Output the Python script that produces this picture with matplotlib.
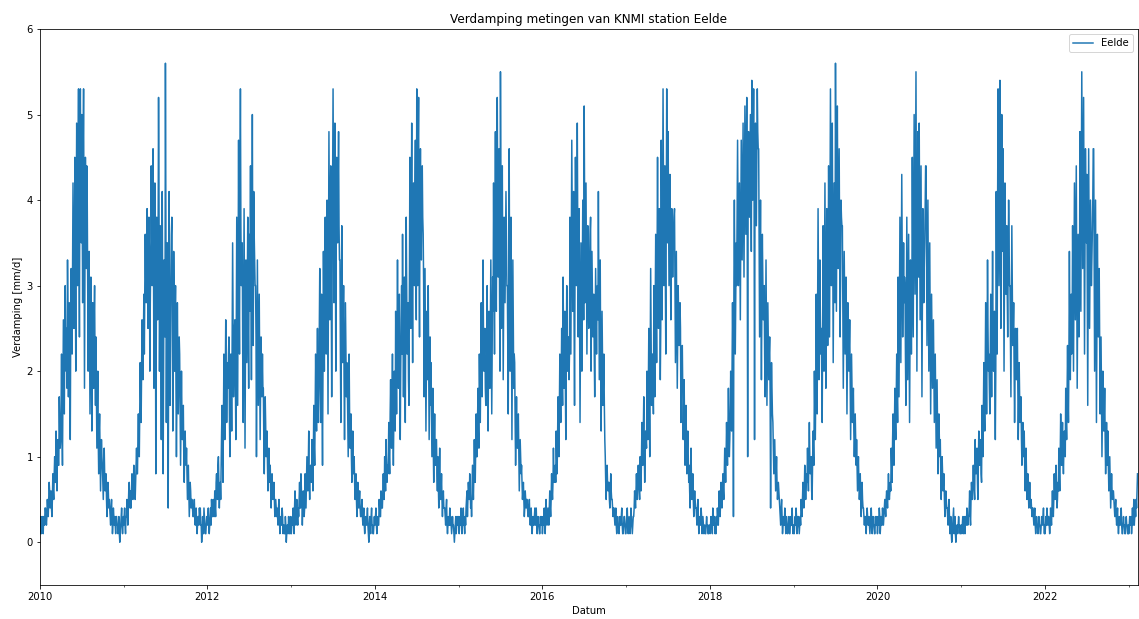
import matplotlib
matplotlib.use("Agg")
import matplotlib.pyplot as plt
import matplotlib.dates as mdates
import pandas as pd

# Verdamping in tienden mm/d, om de 2 dagen
# (per regel één maand: jan t/m dec)
eelde_2010 = [1, 2, 3, 1, 2, 3, 2, 1, 3, 2, 2, 4, 4, 3, 2, 3,
              5, 4, 3, 5, 7, 6, 4, 5, 6, 4, 3, 5, 8, 6,
              5, 8, 10, 7, 7, 13, 9, 6, 10, 12, 9, 9, 17, 13, 11,
              12, 16, 22, 13, 9, 18, 26, 20, 15, 24, 30, 22, 20, 25, 18,
              33, 26, 17, 22, 28, 19, 12, 25, 32, 27, 22, 31, 42, 33, 25, 30,
              45, 32, 20, 38, 49, 41, 30, 44, 53, 35, 24, 47, 53, 42, 35,
              50, 40, 28, 45, 53, 36, 18, 33, 45, 38, 32, 44, 40, 31, 20,
              28, 34, 25, 15, 23, 31, 24, 13, 20, 28, 22, 18, 26, 30, 21, 16,
              24, 17, 11, 16, 20, 12, 8, 13, 15, 10, 6, 9, 12, 10, 9,
              7, 5, 8, 11, 8, 6, 7, 8, 5, 3, 5, 7, 6, 4, 5,
              4, 3, 2, 4, 5, 3, 1, 2, 4, 3, 2, 3, 2, 1, 3,
              3, 2, 2, 1, 2, 3, 1, 0, 1, 2, 3, 4, 2, 1, 2, 3]
eelde_2011 = [2, 3, 4, 2, 1, 3, 3, 5, 4, 2, 4, 6, 7, 5, 4, 6,
              4, 6, 8, 7, 5, 6, 9, 8, 6, 5, 7, 9, 11, 8,
              8, 12, 15, 11, 10, 16, 21, 17, 14, 20, 26, 22, 19, 24, 29,
              22, 30, 36, 31, 28, 33, 39, 35, 25, 30, 38, 34, 20, 28, 33,
              44, 36, 30, 38, 46, 32, 18, 27, 42, 35, 8, 24, 38, 30, 26, 35,
              52, 40, 20, 29, 37, 24, 12, 30, 41, 28, 8, 22, 33, 29, 24,
              56, 38, 14, 27, 35, 22, 4, 25, 41, 30, 16, 23, 30, 36, 38,
              30, 13, 22, 34, 28, 20, 26, 30, 18, 10, 17, 28, 22, 15, 20, 24,
              22, 16, 9, 14, 20, 15, 12, 14, 16, 10, 7, 11, 13, 10, 9,
              11, 8, 5, 7, 9, 6, 3, 5, 7, 6, 4, 5, 5, 4, 3,
              3, 4, 5, 3, 2, 3, 4, 2, 1, 2, 3, 3, 2, 4, 3,
              4, 2, 2, 0, 1, 3, 2, 1, 4, 3, 2, 1, 1, 2, 3, 2]
eelde_2012 = [2, 3, 4, 2, 1, 2, 3, 4, 2, 5, 4, 3, 3, 5, 4, 3,
              6, 4, 3, 7, 8, 6, 5, 9, 10, 7, 4, 6, 7, 5,
              9, 13, 16, 10, 7, 14, 22, 15, 12, 19, 26, 18, 14, 17, 21,
              18, 22, 24, 15, 10, 16, 22, 19, 13, 24, 35, 25, 17, 21, 25,
              26, 19, 12, 24, 38, 27, 16, 33, 47, 30, 22, 41, 53, 37, 30, 35,
              35, 22, 14, 28, 39, 24, 11, 23, 33, 27, 21, 30, 38, 25, 18,
              36, 27, 33, 44, 29, 19, 32, 50, 31, 23, 41, 36, 33, 30, 30,
              24, 10, 21, 33, 25, 16, 22, 29, 20, 12, 18, 24, 20, 17, 22, 18,
              18, 12, 8, 13, 17, 14, 10, 12, 13, 9, 6, 8, 11, 9, 7,
              9, 6, 4, 7, 8, 6, 5, 6, 7, 5, 3, 4, 5, 4, 3,
              4, 3, 2, 4, 5, 3, 1, 2, 3, 2, 2, 4, 3, 1, 2,
              2, 1, 1, 3, 2, 0, 1, 2, 2, 1, 3, 2, 1, 2, 3, 1]
eelde_2013 = [1, 2, 3, 2, 4, 3, 1, 4, 6, 3, 2, 4, 5, 3, 2, 4,
              3, 5, 7, 4, 4, 8, 6, 5, 2, 4, 6, 5, 3, 4,
              8, 6, 4, 7, 10, 8, 6, 9, 13, 7, 5, 8, 9, 8, 7,
              12, 9, 6, 10, 16, 11, 9, 15, 22, 16, 13, 19, 25, 17, 14,
              18, 25, 32, 20, 14, 22, 29, 16, 9, 20, 34, 26, 20, 30, 38, 27,
              22, 33, 40, 26, 15, 30, 48, 36, 26, 38, 44, 30, 17, 31, 41,
              53, 40, 28, 37, 49, 33, 20, 36, 45, 38, 35, 42, 48, 37, 33,
              33, 22, 14, 28, 37, 27, 21, 26, 30, 19, 12, 20, 28, 22, 17, 21,
              19, 14, 10, 16, 22, 15, 11, 13, 15, 10, 7, 10, 13, 9, 8,
              10, 7, 5, 6, 8, 5, 3, 5, 7, 5, 4, 5, 6, 4, 3,
              3, 4, 5, 3, 2, 3, 4, 2, 1, 2, 3, 2, 2, 3, 4,
              2, 1, 0, 2, 3, 2, 1, 3, 4, 2, 2, 1, 1, 2, 3, 2]
eelde_2014 = [2, 3, 4, 2, 1, 2, 3, 2, 2, 5, 4, 3, 3, 6, 5, 4,
              4, 6, 8, 6, 5, 10, 8, 6, 12, 9, 7, 9, 8, 10,
              14, 10, 8, 15, 19, 13, 11, 17, 22, 14, 9, 15, 20, 16, 13,
              27, 20, 15, 25, 33, 24, 18, 26, 29, 17, 12, 20, 26, 30, 22,
              36, 25, 17, 24, 31, 20, 14, 28, 38, 29, 22, 25, 28, 19, 16, 30,
              45, 33, 25, 38, 49, 30, 21, 35, 42, 36, 30, 41, 47, 33, 26,
              53, 41, 30, 46, 52, 34, 24, 39, 46, 38, 33, 40, 44, 38, 36,
              30, 17, 25, 32, 22, 13, 20, 27, 19, 24, 30, 21, 12, 18, 24, 16,
              21, 15, 10, 14, 18, 11, 7, 12, 15, 11, 9, 12, 12, 8, 6,
              10, 7, 4, 8, 11, 7, 5, 6, 8, 5, 3, 5, 6, 4, 4,
              4, 3, 2, 4, 5, 2, 1, 2, 3, 2, 2, 4, 2, 3, 2,
              1, 2, 3, 2, 2, 1, 0, 1, 2, 3, 1, 2, 3, 2, 2, 3]
eelde_2015 = [2, 1, 2, 3, 2, 4, 3, 1, 2, 3, 4, 2, 2, 1, 3, 2,
              4, 5, 6, 3, 5, 7, 6, 5, 8, 6, 4, 5, 3, 6,
              9, 7, 5, 8, 12, 9, 7, 11, 15, 10, 10, 14, 18, 13, 11,
              22, 17, 14, 20, 28, 21, 17, 25, 33, 24, 20, 23, 25, 18, 16,
              16, 24, 30, 19, 13, 21, 27, 22, 18, 26, 33, 24, 15, 23, 31, 27,
              42, 30, 22, 35, 48, 33, 27, 39, 52, 40, 31, 38, 46, 29, 20,
              55, 38, 25, 36, 44, 30, 19, 28, 38, 33, 28, 35, 41, 36, 30,
              30, 22, 15, 32, 46, 29, 20, 28, 38, 25, 12, 22, 33, 25, 18, 22,
              21, 14, 9, 13, 17, 13, 11, 14, 15, 10, 6, 9, 12, 10, 8,
              9, 7, 5, 6, 7, 5, 3, 4, 6, 5, 4, 5, 5, 4, 3,
              3, 4, 5, 3, 2, 3, 4, 2, 1, 2, 3, 2, 2, 3, 4,
              2, 3, 4, 2, 1, 2, 3, 2, 2, 1, 1, 3, 2, 2, 3, 2]
eelde_2016 = [1, 2, 3, 2, 4, 2, 1, 3, 5, 3, 2, 3, 4, 3, 2, 4,
              6, 4, 3, 5, 8, 6, 5, 7, 11, 8, 7, 8, 9, 7,
              13, 10, 8, 12, 17, 12, 10, 16, 22, 17, 14, 20, 25, 19, 16,
              31, 24, 18, 22, 27, 18, 12, 21, 30, 25, 20, 23, 24, 19, 22,
              38, 29, 22, 35, 47, 36, 27, 33, 41, 26, 16, 31, 45, 37, 30, 34,
              49, 36, 24, 31, 39, 25, 14, 25, 35, 28, 20, 32, 40, 33, 26,
              51, 39, 28, 35, 42, 31, 22, 30, 37, 30, 25, 29, 33, 36, 38,
              20, 27, 34, 29, 24, 27, 29, 22, 17, 25, 32, 27, 22, 28, 30, 26,
              41, 30, 19, 26, 33, 21, 13, 20, 27, 21, 16, 19, 22, 16, 12,
              10, 7, 5, 8, 9, 7, 6, 7, 7, 5, 4, 6, 8, 6, 5,
              5, 4, 3, 4, 4, 3, 2, 3, 4, 2, 1, 2, 3, 2, 2,
              1, 2, 3, 2, 2, 3, 4, 2, 1, 1, 2, 3, 3, 2, 1, 1]
eelde_2017 = [2, 3, 4, 2, 1, 2, 3, 2, 1, 2, 4, 3, 2, 1, 2, 3,
              3, 4, 6, 5, 4, 6, 8, 6, 5, 7, 9, 7, 6, 5,
              10, 8, 6, 10, 14, 11, 9, 13, 17, 11, 7, 10, 13, 12, 11,
              20, 15, 12, 18, 25, 16, 10, 20, 32, 23, 16, 19, 22, 18, 15,
              30, 23, 17, 28, 36, 27, 21, 33, 45, 32, 25, 31, 39, 27, 19, 25,
              47, 35, 26, 40, 53, 40, 30, 37, 44, 31, 22, 38, 53, 42, 35,
              48, 38, 30, 36, 43, 33, 26, 32, 39, 35, 31, 34, 36, 38, 39,
              30, 21, 27, 34, 25, 18, 24, 30, 26, 23, 25, 28, 25, 14, 19, 22,
              23, 17, 12, 16, 19, 13, 9, 12, 16, 12, 8, 11, 13, 10, 7,
              9, 6, 4, 8, 11, 7, 5, 6, 8, 5, 3, 5, 6, 5, 4,
              4, 3, 2, 4, 5, 3, 1, 2, 3, 2, 2, 4, 3, 1, 2,
              3, 2, 1, 2, 2, 1, 1, 2, 3, 2, 2, 1, 1, 2, 2, 2]
eelde_2018 = [1, 2, 3, 2, 2, 1, 4, 3, 2, 3, 3, 1, 2, 1, 3, 2,
              4, 3, 2, 4, 6, 4, 3, 5, 7, 5, 4, 6, 8, 6,
              5, 8, 11, 9, 7, 10, 14, 11, 9, 13, 18, 14, 10, 12, 15,
              20, 16, 13, 20, 28, 22, 3, 30, 40, 31, 22, 28, 35, 30, 38,
              47, 38, 30, 36, 42, 33, 26, 37, 47, 40, 33, 41, 49, 39, 31, 40,
              51, 43, 36, 45, 52, 38, 10, 40, 48, 43, 38, 44, 50, 41, 34,
              54, 46, 40, 47, 53, 41, 12, 42, 49, 43, 37, 46, 53, 48, 46,
              46, 35, 24, 33, 40, 28, 19, 28, 36, 31, 26, 29, 30, 22, 17, 25,
              33, 24, 16, 22, 28, 23, 19, 22, 24, 17, 4, 16, 21, 18, 15,
              14, 11, 8, 10, 12, 9, 6, 8, 10, 7, 5, 6, 7, 6, 5,
              4, 3, 2, 4, 5, 3, 1, 2, 3, 2, 2, 4, 3, 1, 2,
              3, 2, 1, 2, 2, 3, 1, 1, 2, 3, 2, 2, 4, 2, 1, 2]
eelde_2019 = [2, 1, 2, 3, 2, 4, 3, 1, 2, 3, 3, 2, 1, 2, 3, 2,
              5, 4, 3, 5, 7, 5, 4, 6, 9, 6, 5, 6, 8, 7,
              11, 8, 6, 10, 14, 10, 8, 9, 10, 6, 5, 9, 13, 10, 9,
              20, 15, 12, 18, 29, 20, 15, 27, 39, 28, 19, 25, 33, 26, 22,
              25, 19, 14, 26, 37, 27, 20, 31, 42, 30, 18, 27, 39, 31, 23, 30,
              44, 33, 24, 40, 53, 41, 30, 38, 49, 35, 21, 32, 42, 35, 28,
              56, 42, 27, 39, 51, 40, 32, 39, 46, 35, 24, 30, 40, 38, 37,
              37, 27, 18, 26, 34, 28, 22, 27, 31, 22, 15, 21, 28, 24, 20, 23,
              26, 19, 12, 17, 22, 18, 14, 16, 18, 13, 10, 12, 15, 12, 9,
              12, 9, 6, 8, 10, 7, 5, 6, 8, 5, 3, 5, 7, 5, 4,
              4, 3, 2, 3, 3, 2, 1, 3, 4, 3, 2, 2, 3, 2, 1,
              2, 3, 4, 2, 1, 2, 3, 2, 2, 1, 1, 3, 2, 2, 3, 2]
eelde_2020 = [1, 2, 3, 2, 4, 3, 1, 2, 3, 2, 2, 4, 3, 2, 3, 4,
              5, 4, 3, 5, 6, 5, 4, 6, 8, 6, 5, 6, 7, 6,
              11, 9, 7, 12, 15, 11, 9, 14, 18, 14, 12, 17, 22, 17, 14,
              31, 24, 17, 28, 38, 29, 21, 32, 43, 33, 24, 30, 35, 28, 31,
              30, 22, 16, 27, 38, 28, 19, 27, 36, 25, 14, 23, 33, 28, 22, 28,
              45, 34, 24, 37, 50, 39, 29, 42, 55, 36, 20, 34, 48, 39, 31,
              49, 37, 26, 35, 44, 30, 17, 28, 39, 33, 28, 32, 35, 39, 44,
              44, 33, 23, 31, 40, 30, 20, 27, 35, 25, 15, 22, 29, 24, 18, 22,
              26, 20, 14, 18, 22, 16, 11, 15, 19, 13, 8, 12, 15, 12, 10,
              12, 8, 5, 8, 10, 8, 6, 7, 8, 5, 3, 5, 6, 5, 4,
              4, 3, 2, 4, 5, 3, 1, 2, 3, 1, 0, 1, 2, 3, 4,
              1, 2, 3, 1, 0, 1, 2, 2, 1, 2, 3, 2, 2, 1, 1, 2]
eelde_2021 = [2, 1, 2, 3, 2, 1, 3, 2, 1, 3, 2, 2, 4, 3, 2, 3,
              3, 4, 6, 3, 2, 5, 7, 6, 5, 7, 9, 7, 6, 5,
              12, 9, 8, 10, 11, 7, 5, 9, 13, 10, 9, 11, 12, 8, 7,
              16, 12, 10, 15, 21, 16, 13, 20, 28, 20, 15, 22, 33, 25, 20,
              22, 18, 15, 22, 29, 22, 17, 26, 34, 25, 20, 24, 27, 18, 12, 20,
              41, 30, 22, 40, 53, 40, 30, 42, 54, 37, 25, 38, 50, 40, 34,
              46, 33, 20, 31, 42, 35, 29, 33, 37, 29, 24, 32, 40, 35, 30,
              30, 23, 17, 27, 37, 30, 23, 25, 28, 20, 14, 19, 25, 21, 19, 22,
              25, 18, 12, 16, 21, 17, 14, 15, 17, 12, 9, 11, 14, 12, 10,
              13, 9, 6, 9, 11, 8, 5, 6, 8, 6, 4, 5, 7, 5, 4,
              5, 4, 3, 4, 4, 3, 2, 3, 4, 2, 1, 2, 3, 2, 2,
              1, 2, 3, 2, 2, 1, 1, 2, 3, 2, 2, 3, 4, 2, 1, 2]
eelde_2022 = [1, 2, 3, 2, 4, 3, 2, 3, 3, 2, 1, 2, 4, 3, 2, 4,
              6, 4, 3, 5, 8, 6, 5, 7, 9, 6, 4, 5, 7, 6,
              11, 8, 6, 10, 15, 11, 9, 12, 14, 10, 8, 11, 13, 11, 10,
              18, 14, 12, 17, 23, 17, 14, 22, 34, 25, 19, 24, 29, 22, 25,
              37, 28, 20, 31, 42, 33, 26, 35, 44, 30, 18, 27, 36, 30, 24, 30,
              48, 37, 27, 41, 55, 42, 32, 42, 52, 36, 22, 35, 46, 40, 35,
              43, 28, 16, 32, 46, 35, 25, 33, 40, 35, 30, 33, 36, 40, 46,
              46, 33, 20, 30, 40, 27, 14, 25, 36, 30, 24, 28, 32, 23, 15, 20,
              24, 17, 10, 15, 20, 16, 13, 15, 18, 12, 8, 11, 14, 11, 9,
              13, 9, 6, 8, 10, 7, 4, 6, 8, 6, 5, 6, 6, 5, 4,
              3, 4, 5, 3, 2, 3, 4, 2, 1, 2, 3, 2, 2, 3, 4,
              2, 1, 1, 2, 3, 2, 2, 1, 1, 2, 3, 2, 2, 1, 1, 2]
eelde_2023 = [1, 2, 3, 2, 2, 3, 1, 2, 4, 2, 3, 5, 2, 3, 4, 3,
              5, 4, 6, 8]

jaren = [2010, 2011, 2012, 2013, 2014, 2015, 2016, 2017, 2018, 2019, 2020, 2021, 2022, 2023]
reeksen = [eelde_2010, eelde_2011, eelde_2012, eelde_2013, eelde_2014, eelde_2015, eelde_2016,
           eelde_2017, eelde_2018, eelde_2019, eelde_2020, eelde_2021, eelde_2022, eelde_2023]

# reeks opbouwen: per jaar vanaf 1 januari, stap 2 dagen
delen = []
for jaar, waarden in zip(jaren, reeksen):
    datums = pd.date_range(f"{jaar}-01-01", periods=len(waarden), freq="2D")
    delen.append(pd.Series(waarden, index=datums) / 10)
eelde = pd.concat(delen).sort_index()

fig = plt.figure(figsize=(1139 / 72, 619 / 72), dpi=72)
ax = fig.add_axes([40 / 1139, 34 / 619, 1097.5 / 1139, 556 / 619])

ax.plot(eelde.index, eelde.values, color="#1f77b4", lw=1.5, label="Eelde")

ax.set_xlim(eelde.index[0], eelde.index[-1])
ax.set_ylim(-0.5, 6)
ax.xaxis.set_major_locator(mdates.YearLocator(2))
ax.xaxis.set_minor_locator(mdates.YearLocator(1))
ax.xaxis.set_major_formatter(mdates.DateFormatter("%Y"))

ax.set_title("Verdamping metingen van KNMI station Eelde")
ax.set_xlabel("Datum")
ax.set_ylabel("Verdamping [mm/d]")
ax.legend(loc="upper right")

fig.savefig("out.png", dpi=72)
